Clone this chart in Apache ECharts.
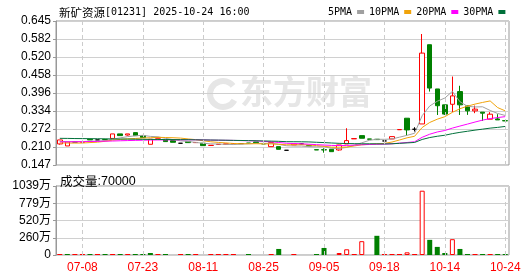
<!DOCTYPE html>
<html><head><meta charset="utf-8">
<script src="https://cdn.jsdelivr.net/npm/echarts@6/dist/echarts.min.js"></script>
<style>html,body{margin:0;padding:0;background:#fff}#c{width:530px;height:276px}</style>
</head><body><div id="c"></div>
<script>
// ---------- data ----------
const dates = ['07-02','07-03','07-04','07-08','07-09','07-10','07-11','07-14','07-15','07-17','07-21','07-23',
 '07-24','07-25','07-28','07-30','08-01','08-05','08-07','08-11','08-12','08-13','08-14','08-15','08-18','08-20','08-22','08-25',
 '08-26','08-27','08-28','08-29','09-01','09-02','09-04','09-05','09-08','09-09','09-10','09-11','09-12','09-15','09-16','09-18',
 '09-22','09-24','09-26','09-30','10-03','10-08','10-10','10-14','10-15','10-16','10-17','10-20','10-21','10-22','10-23','10-24'];
const opens  = [0.2198,0.2129,0.2267,0.2256,0.2360,0.2337,0.2352,0.2388,0.2545,0.2506,0.2590,0.2486,
 0.2187,0.2395,0.2337,0.2314,0.2222,0.2279,0.2244,0.2222,0.2145,0.2180,0.2190,0.2203,0.2210,0.2228,0.2267,0.2210,
 0.2105,0.2105,0.1979,0.2163,0.2198,0.2140,0.2000,0.2000,0.2013,0.1990,0.2198,0.2375,0.2486,0.2371,0.2360,0.2302,
 0.2371,0.2690,0.3088,0.2706,0.2890,0.5630,0.4100,0.3550,0.3570,0.4010,0.3515,0.3342,0.3297,0.3054,0.3064,0.3005];
const closes = [0.2337,0.2267,0.2267,0.2267,0.2337,0.2337,0.2340,0.2545,0.2486,0.2545,0.2486,0.2417,
 0.2360,0.2418,0.2279,0.2256,0.2222,0.2244,0.2250,0.2140,0.2152,0.2187,0.2198,0.2210,0.2210,0.2221,0.2244,0.2198,
 0.2244,0.2013,0.1979,0.2198,0.2198,0.2129,0.1990,0.1990,0.1931,0.2163,0.2314,0.2383,0.2395,0.2360,0.2348,0.2302,
 0.2452,0.2697,0.2683,0.2706,0.5340,0.4130,0.3520,0.3230,0.3860,0.3550,0.3342,0.3401,0.3262,0.3227,0.3030,0.2995];
const lows   = [0.2175,0.2129,0.2267,0.2256,0.2337,0.2337,0.2340,0.2388,0.2486,0.2486,0.2486,0.2417,
 0.2187,0.2395,0.2279,0.2256,0.2222,0.2244,0.2244,0.2140,0.2145,0.2180,0.2190,0.2203,0.2210,0.2221,0.2244,0.2198,
 0.2105,0.2013,0.1979,0.2163,0.2198,0.2129,0.1990,0.1896,0.1931,0.1966,0.2198,0.2375,0.2395,0.2360,0.2348,0.2302,
 0.2371,0.2690,0.2475,0.2627,0.2890,0.4010,0.3200,0.3200,0.3300,0.3200,0.3203,0.3262,0.2995,0.3054,0.3030,0.2995];
const highs  = [0.2337,0.2267,0.2267,0.2267,0.2360,0.2337,0.2352,0.2545,0.2545,0.2545,0.2590,0.2486,
 0.2360,0.2418,0.2337,0.2314,0.2222,0.2279,0.2250,0.2222,0.2152,0.2187,0.2198,0.2210,0.2210,0.2228,0.2267,0.2210,
 0.2244,0.2105,0.1979,0.2198,0.2198,0.2140,0.2000,0.2048,0.2013,0.2163,0.2742,0.2383,0.2486,0.2371,0.2360,0.2302,
 0.2452,0.2697,0.3088,0.2777,0.6000,0.5630,0.4100,0.3550,0.4530,0.4210,0.3515,0.3525,0.3297,0.3297,0.3227,0.3005];
const volumes = [30000,20000,30000,20000,20000,30000,20000,30000,20000,30000,20000,30000,
 300000,30000,20000,null,30000,20000,30000,null,30000,30000,30000,30000,null,20000,null,null,
 30000,910000,null,30000,null,null,20000,1060000,null,300000,860000,30000,2080000,null,2890000,30000,
 30000,30000,400000,30000,9680000,2280000,1220000,300000,2380000,910000,30000,30000,30000,30000,30000,70000];
const volumeUp = [1,0,1,1,0,1,0,1,0,1,0,0,
 0,1,0,0,1,0,1,0,1,1,1,1,0,0,0,0,
 1,0,0,1,0,0,0,0,0,1,1,1,1,0,0,1,
 1,1,1,1,1,0,0,0,1,0,0,1,0,1,0,0];
const ma5 = [0.2285,0.2280,0.2272,0.2280,0.2295,0.2295,0.2310,0.2365,0.2409,0.2451,0.2480,0.2496,
 0.2459,0.2445,0.2392,0.2346,0.2307,0.2284,0.2250,0.2222,0.2202,0.2195,0.2185,0.2177,0.2191,0.2205,0.2217,0.2217,
 0.2223,0.2184,0.2136,0.2126,0.2126,0.2103,0.2099,0.2101,0.2048,0.2041,0.2078,0.2156,0.2237,0.2323,0.2360,0.2358,
 0.2371,0.2432,0.2496,0.2568,0.3176,0.3511,0.3676,0.3785,0.4016,0.3658,0.3500,0.3477,0.3483,0.3356,0.3252,0.3183];
const ma10 = [0.2235,0.2230,0.2228,0.2230,0.2245,0.2260,0.2290,0.2330,0.2355,0.2373,0.2388,0.2403,
 0.2412,0.2427,0.2421,0.2413,0.2401,0.2371,0.2348,0.2307,0.2274,0.2251,0.2235,0.2214,0.2207,0.2203,0.2206,0.2201,
 0.2200,0.2188,0.2170,0.2172,0.2172,0.2163,0.2141,0.2118,0.2087,0.2084,0.2091,0.2128,0.2169,0.2185,0.2200,0.2218,
 0.2264,0.2335,0.2410,0.2464,0.2767,0.2941,0.3054,0.3141,0.3291,0.3416,0.3506,0.3576,0.3634,0.3686,0.3455,0.3342];
const ma20 = [0.2270,0.2272,0.2275,0.2278,0.2282,0.2287,0.2293,0.2300,0.2308,0.2315,0.2322,0.2328,
 0.2333,0.2336,0.2338,0.2340,0.2341,0.2341,0.2341,0.2340,0.2331,0.2327,0.2324,0.2321,0.2314,0.2308,0.2304,0.2286,
 0.2274,0.2248,0.2222,0.2212,0.2204,0.2189,0.2174,0.2161,0.2147,0.2143,0.2146,0.2158,0.2170,0.2179,0.2186,0.2191,
 0.2203,0.2227,0.2249,0.2274,0.2429,0.2535,0.2612,0.2663,0.2746,0.2817,0.2885,0.2956,0.3022,0.3075,0.3111,0.3142];
const ma30 = [0.2392,0.2390,0.2385,0.2383,0.2380,0.2378,0.2376,0.2371,0.2368,0.2366,0.2360,0.2357,
 0.2356,0.2353,0.2350,0.2349,0.2347,0.2344,0.2341,0.2337,0.2334,0.2331,0.2327,0.2322,0.2318,0.2313,0.2308,0.2302,
 0.2296,0.2289,0.2277,0.2275,0.2273,0.2268,0.2256,0.2245,0.2231,0.2219,0.2213,0.2208,0.2204,0.2203,0.2202,0.2198,
 0.2204,0.2219,0.2234,0.2250,0.2353,0.2419,0.2464,0.2499,0.2554,0.2599,0.2637,0.2676,0.2710,0.2745,0.2771,0.2804];
const priceTicks = ['0.147','0.210','0.272','0.334','0.396','0.458','0.520','0.582','0.645'];
const volumeTicks = ['0','260万','520万','779万','1039万'];
const maNames = ['5PMA','10PMA','20PMA','30PMA'];
const titleName = '新矿资源';
const titleRest = '[01231] 2025-10-24 16:00';
const volumeTitle = '成交量';
const volumeTitleValue = ':70000';
const watermark = '东方财富';

// ---------- chart ----------
const RED = '#ff0000', GREEN = '#008000';
const maColors = ['#a0a0a0','#f0a30a','#ff00ff','#00703a'];
const pMin = 0.147, pMax = 0.645, pStep = (pMax - pMin) / 8;
const vMax = 10390000, vStep = vMax / 4;
const labelIdx = i => (i - 3) % 8 === 0;
const markDates = dates.filter((d, i) => labelIdx(i));

const candleData = dates.map((d, i) => [opens[i], closes[i], lows[i], highs[i]]);
const volData = volumes.map((v, i) => {
  if (v == null) return '-';
  let st;
  if (volumeUp[i]) st = v < 300000 ? {color: RED} : {color: '#fff', borderColor: RED, borderWidth: 1};
  else st = {color: GREEN};
  return {value: v, itemStyle: st};
});
const dashLines = gi => ({
  type: 'line', xAxisIndex: gi, yAxisIndex: gi, data: [], z: 1, silent: true,
  markLine: {silent: true, symbol: 'none', label: {show: false}, animation: false,
    lineStyle: {color: '#cccccc', type: [4, 3], width: 1},
    data: markDates.map(d => ({xAxis: d}))}
});

const chart = echarts.init(document.getElementById('c'));
chart.setOption({
  animation: false,
  title: [
    {text: '{a|' + titleName + '}{b|' + titleRest + '}', left: 54, top: 2,
     textStyle: {fontWeight: 'normal', rich: {
       a: {fontFamily: 'Noto Sans CJK SC', fontSize: 11.5, color: '#000', fontWeight: 'normal'},
       b: {fontFamily: 'DejaVu Sans Mono', fontSize: 10, color: '#000', fontWeight: 'normal'}}}},
    {text: '{a|' + volumeTitle + '}{b|' + volumeTitleValue + '}', left: 55, top: 170,
     textStyle: {fontWeight: 'normal', rich: {
       a: {fontFamily: 'Noto Sans CJK SC', fontSize: 12.5, color: '#000', fontWeight: 'normal'},
       b: {fontFamily: 'Liberation Sans', fontSize: 12.5, color: '#000', fontWeight: 'normal'}}}}
  ],
  legend: {left: 323, top: 2, align: 'right', icon: 'rect', itemWidth: 7, itemHeight: 4, itemGap: 5,
    selectedMode: false, data: maNames,
    textStyle: {fontFamily: 'DejaVu Sans Mono', fontSize: 10, color: '#000'}},
  graphic: [
    {type: 'arc', left: 207, top: 78, z: 0, silent: true,
     shape: {cx: 15, cy: 15, r: 13, startAngle: 0.5, endAngle: 5.6},
     style: {stroke: '#e6e6e6', lineWidth: 6, fill: 'none'}},
    {type: 'text', left: 240, top: 75, z: 0, silent: true,
     style: {text: watermark, font: 'bold 33px "Noto Sans CJK SC"', fill: '#e6e6e6'}}
  ],
  grid: [
    {left: 56, top: 21, width: 453, height: 144, show: true, borderColor: '#999', borderWidth: 1},
    {left: 56, top: 186, width: 453, height: 69, show: true, borderColor: '#999', borderWidth: 1}
  ],
  xAxis: [
    {type: 'category', gridIndex: 0, data: dates, boundaryGap: true, axisLine: {show: false},
     axisTick: {show: false}, axisLabel: {show: false}, splitLine: {show: false}},
    {type: 'category', gridIndex: 1, data: dates, boundaryGap: true, axisLine: {show: false},
     axisTick: {show: false}, splitLine: {show: false},
     axisLabel: {interval: labelIdx, color: RED, fontSize: 12, fontFamily: 'Liberation Sans', margin: 7}}
  ],
  yAxis: [
    {type: 'value', gridIndex: 0, min: pMin, max: pMax, interval: pStep, scale: true,
     axisLine: {show: true, lineStyle: {color: '#999'}},
     axisTick: {show: true, length: 3, lineStyle: {color: '#999'}},
     axisLabel: {color: '#000', fontSize: 12, fontFamily: 'Liberation Sans', margin: 5,
       formatter: v => priceTicks[Math.round((v - pMin) / pStep)]},
     splitLine: {lineStyle: {color: '#d0d0d0'}}},
    {type: 'value', gridIndex: 1, min: 0, max: vMax, interval: vStep,
     axisLine: {show: true, lineStyle: {color: '#999'}},
     axisTick: {show: true, length: 3, lineStyle: {color: '#999'}},
     axisLabel: {color: '#000', fontSize: 12, fontFamily: 'Liberation Sans, Noto Sans CJK SC', margin: 5,
       formatter: v => volumeTicks[Math.round(v / vStep)]},
     splitLine: {lineStyle: {color: '#d0d0d0'}}}
  ],
  series: [
    dashLines(0), dashLines(1),
    {type: 'candlestick', xAxisIndex: 0, yAxisIndex: 0, data: candleData, barWidth: 5, z: 2,
     itemStyle: {color: '#fff', color0: GREEN, borderColor: RED, borderColor0: GREEN,
       borderColorDoji: '#000', borderWidth: 1}},
    {type: 'bar', xAxisIndex: 1, yAxisIndex: 1, data: volData, barWidth: 5, barMinHeight: 1, z: 2},
    ...[ma5, ma10, ma20, ma30].map((arr, k) => ({
      type: 'line', name: maNames[k], xAxisIndex: 0, yAxisIndex: 0, data: arr, showSymbol: false,
      symbol: 'none', z: 3, lineStyle: {width: 1, color: maColors[k]}, itemStyle: {color: maColors[k]}
    }))
  ]
});
</script></body></html>
